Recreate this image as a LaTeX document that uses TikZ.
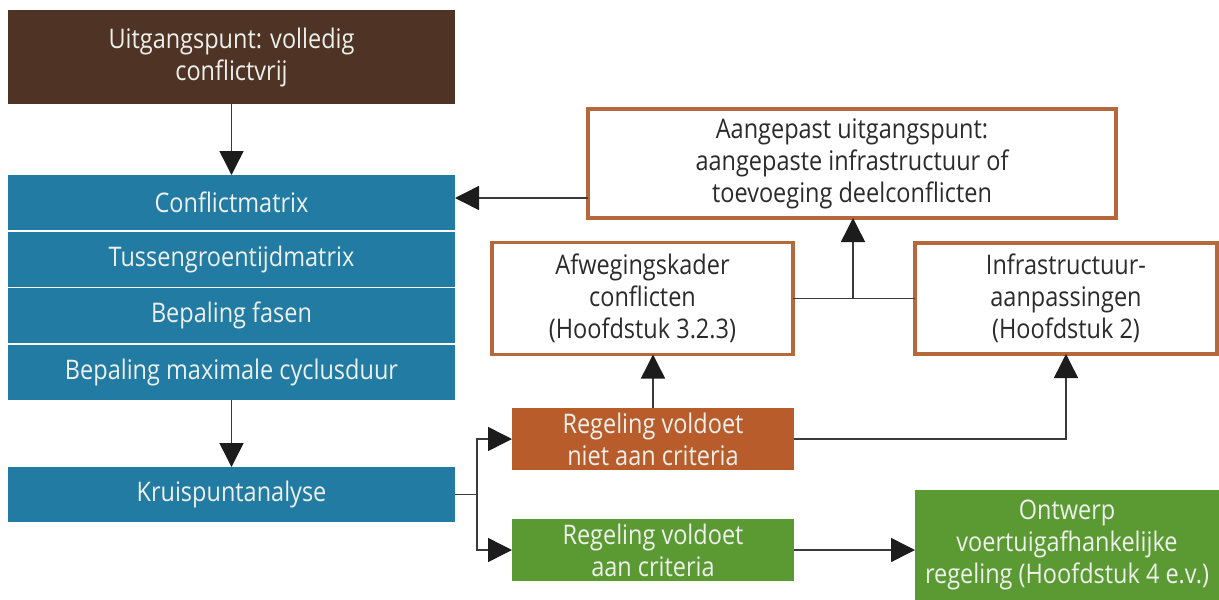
\documentclass[tikz,border=0pt]{standalone}
\usepackage{fontspec}
\setmainfont{Open Sans}[FakeStretch=0.87]
\usetikzlibrary{arrows.meta,calc}
\definecolor{brownfill}{HTML}{4F3426}
\definecolor{bluefill}{HTML}{217BA3}
\definecolor{orangefill}{HTML}{B95C2B}
\definecolor{orangeline}{HTML}{B4683C}
\definecolor{greenfill}{HTML}{5B9A33}
\definecolor{linegray}{HTML}{3A3A3A}
\definecolor{tipblack}{HTML}{1C1C1C}
\definecolor{darktext}{HTML}{2B2B2B}
\definecolor{lighttext}{HTML}{EEF0EC}
\begin{document}
\begin{tikzpicture}[x=1pt,y=-1pt,
  every node/.style={inner sep=0pt,outer sep=0pt,align=center,
    font=\fontsize{27}{32}\selectfont},
  filledbox/.style={rectangle,minimum width=#1,text=lighttext},
  brownbox/.style={filledbox=447pt,fill=brownfill,minimum height=94pt},
  bluebox/.style={filledbox=447pt,fill=bluefill,minimum height=55pt},
  orangebox/.style={filledbox=282pt,fill=orangefill,minimum height=62pt},
  greenbox/.style={filledbox=282pt,fill=greenfill,minimum height=62pt},
  framebox/.style={rectangle,draw=orangeline,line width=3.2pt,fill=white,
    text=darktext,minimum width=#1},
  conn/.style={draw=linegray,line width=1.5pt},
  arr/.style={conn,-{Triangle[length=24pt,width=24pt,color=tipblack]}}]
\useasboundingbox[fill=white] (0,0) rectangle (1219,600);

% left column
\node[brownbox] (start) at (231.5,57) {Uitgangspunt: volledig\\conflictvrij};
\node[bluebox] (cm) at (231.5,202.5) {Conflictmatrix};
\node[bluebox] (tg) at (231.5,259.5) {Tussengroentijdmatrix};
\node[bluebox] (fa) at (231.5,315.5) {Bepaling fasen};
\node[bluebox] (cy) at (231.5,372.5) {Bepaling maximale cyclusduur};
\node[bluebox] (kr) at (231.5,494.5) {Kruispuntanalyse};

% right part
\node[framebox=528pt,minimum height=109pt] (aang) at (852,163.5)
  {Aangepast uitgangspunt:\\aangepaste infrastructuur of\\toevoeging deelconflicten};
\node[framebox=301pt,minimum height=112pt] (afw) at (642.5,298.5)
  {Afwegingskader\\conflicten\\(Hoofdstuk 3.2.3)};
\node[framebox=302pt,minimum height=111pt] (infra) at (1066,298.5)
  {Infrastructuur-\\aanpassingen\\(Hoofdstuk 2)};
\node[orangebox] (niet) at (653,439) {Regeling voldoet\\niet aan criteria};
\node[greenbox] (wel) at (653,550) {Regeling voldoet\\aan criteria};
\node[filledbox=304pt,fill=greenfill,minimum height=110pt] (ontw) at (1067,545)
  {Ontwerp\\voertuigafhankelijke\\regeling (Hoofdstuk 4 e.v.)};

\coordinate (split) at (477,494.5);
\coordinate (join) at (853,298.5);

% connectors
\draw[arr] (start) -- (cm);
\draw[arr] (cy) -- (kr);
\draw[conn] (kr.east) -- (split);
\draw[arr] (split) |- (niet.west);
\draw[arr] (split) |- (wel.west);
\draw[arr] (niet.north) -- (niet.north |- afw.south);
\draw[arr] (niet.east) -| (infra.south);
\draw[conn] (afw.east) -- (infra.west);
\draw[arr] (join) -- (join |- aang.south);
\draw[arr] (aang.west |- 0,198) -- (cm.east |- 0,198);
\draw[arr] (wel.east) -- (wel.east -| ontw.west);
\end{tikzpicture}
\end{document}
